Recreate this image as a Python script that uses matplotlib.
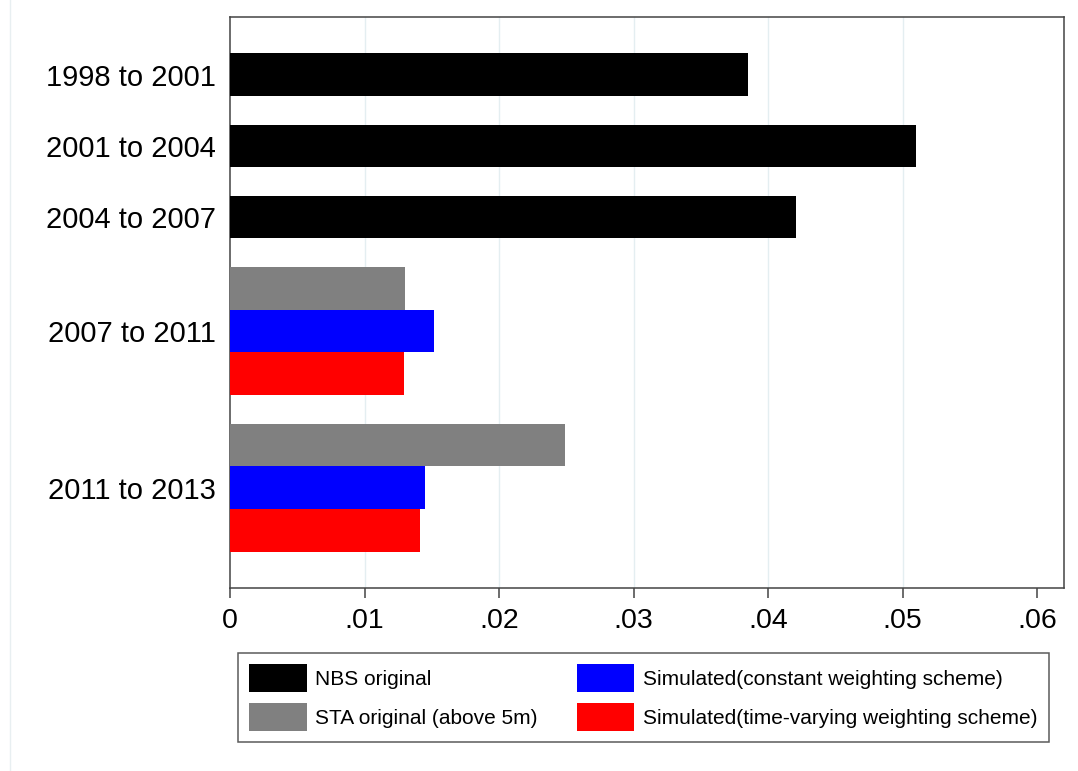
import numpy as np
import matplotlib
matplotlib.use("Agg")
import matplotlib.pyplot as plt
from matplotlib.lines import Line2D
from matplotlib.patches import Patch

plt.rcParams['font.family'] = ['Liberation Sans', 'DejaVu Sans']

# ---- data ----
categories = ["1998 to 2001", "2001 to 2004", "2004 to 2007", "2007 to 2011", "2011 to 2013"]
nbs_original = [0.0385, 0.0510, 0.0421, np.nan, np.nan]
sta_original = [np.nan, np.nan, np.nan, 0.0130, 0.0249]
sim_constant = [np.nan, np.nan, np.nan, 0.0152, 0.0145]
sim_timevar = [np.nan, np.nan, np.nan, 0.0129, 0.0141]

series_names = ["NBS original", "STA original (above 5m)",
                "Simulated(constant weighting scheme)",
                "Simulated(time-varying weighting scheme)"]
series_values = [nbs_original, sta_original, sim_constant, sim_timevar]
series_colors = ["#000000", "#808080", "#0000FF", "#FF0000"]

xticks = [0, 0.01, 0.02, 0.03, 0.04, 0.05, 0.06]
xticklabels = ["0", ".01", ".02", ".03", ".04", ".05", ".06"]

# ---- layout ----
W, H = 1078, 771
fig = plt.figure(figsize=(W / 100, H / 100), dpi=100)
ax = fig.add_axes([230 / W, 1 - 588.3 / H, (1064 - 230) / W, (588.3 - 16.7) / H])

margin = 0.86
gap = 0.669
cursor = margin
centers = []
for ci in range(len(categories)):
    present = [si for si in range(len(series_values))
               if not np.isnan(series_values[si][ci])]
    start = cursor
    for si in present:
        ax.barh(cursor + 0.5, series_values[si][ci], height=1.0,
                color=series_colors[si], linewidth=0, zorder=3)
        cursor += 1.0
    centers.append((start + cursor) / 2)
    cursor += gap
total = cursor - gap + margin

ax.set_ylim(total, 0)
ax.set_xlim(0, 0.0620)
ax.set_yticks(centers)
ax.set_yticklabels(categories, fontsize=21)
ax.set_xticks(xticks)
ax.set_xticklabels(xticklabels, fontsize=20.5)

for t in xticks[1:-1]:
    ax.axvline(t, color="#e4eef1", lw=1.0, zorder=1)

spine_color = "#444444"
for s in ax.spines.values():
    s.set_color(spine_color)
    s.set_linewidth(1.1)
ax.tick_params(axis='y', length=0, pad=10)
ax.tick_params(axis='x', length=7.5, width=1.1, color=spine_color, pad=7)

handles = [Patch(facecolor=c, edgecolor='none') for c in series_colors]
leg = fig.legend(handles, series_names, ncol=2, loc='upper left',
                 bbox_to_anchor=(238 / W, 1 - 653 / H),
                 fontsize=15, frameon=True, fancybox=False,
                 handlelength=2.74, handleheight=1.69, handletextpad=0.4,
                 columnspacing=1.92, labelspacing=0.5, borderpad=0.55,
                 borderaxespad=0)
leg.get_frame().set_edgecolor("#333333")
leg.get_frame().set_linewidth(1.1)

fig.add_artist(Line2D([9.5 / W, 9.5 / W], [0, 1], color="#e8eff1", lw=1.0))

fig.savefig("out.png", dpi=100)
